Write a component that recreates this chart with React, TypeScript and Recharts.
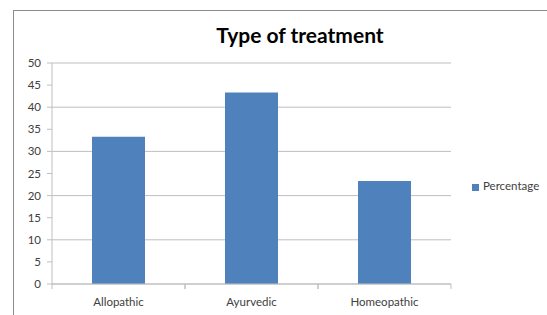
import { BarChart, Bar, XAxis, YAxis, CartesianGrid, Legend } from "recharts";

const categories = ["Allopathic", "Ayurvedic", "Homeopathic"];
const percentage = [33.3, 43.3, 23.3];
const yTicks = [0, 5, 10, 15, 20, 25, 30, 35, 40, 45, 50];

const data = categories.map((name, i) => ({ name, Percentage: percentage[i] }));

const font = "Lato, 'Open Sans', sans-serif";
const grid = "#bfbfbf";

// Excel-style x tick: label at the centre, tick marks at the band edges
function CategoryTick(props: any) {
  const { x, y, payload } = props;
  const half = payload.offset ?? 0;
  return (
    <g>
      <line x1={x - half} x2={x - half} y1={y - 8} y2={y - 3} stroke={grid} />
      <line x1={x + half} x2={x + half} y1={y - 8} y2={y - 3} stroke={grid} />
      <text x={x} y={y + 14} textAnchor="middle" fontSize={11.5} fill="#404040" fontFamily={font}>
        {payload.value}
      </text>
    </g>
  );
}

export default function App() {
  return (
    <div style={{ position: "absolute", left: 0, top: 0, width: 547, height: 315, background: "#fff", overflow: "hidden" }}>
      <div
        style={{
          position: "absolute",
          left: 13,
          top: 10,
          width: 600,
          height: 400,
          border: "1px solid #8c8c8c",
          boxSizing: "border-box",
        }}
      />
      <div
        style={{
          position: "absolute",
          left: 180,
          width: 240,
          top: 22,
          textAlign: "center",
          fontFamily: font,
          fontWeight: 700,
          fontSize: 21,
          color: "#000",
        }}
      >
        Type of treatment
      </div>
      <BarChart
        width={547}
        height={315}
        data={data}
        margin={{ top: 63, right: 16, bottom: 1, left: 12 }}
        style={{ position: "absolute", left: 0, top: 0 }}
      >
        <CartesianGrid stroke={grid} vertical={false} />
        <XAxis
          dataKey="name"
          height={30}
          stroke={grid}
          tickLine={false}
          tick={<CategoryTick />}
          interval={0}
        />
        <YAxis
          width={40}
          domain={[0, 50]}
          ticks={yTicks}
          stroke={grid}
          tickSize={5}
          tickMargin={6}
          tick={{ fontSize: 11.5, fill: "#404040", fontFamily: font }}
        />
        <Legend
          layout="vertical"
          align="right"
          verticalAlign="middle"
          iconType="square"
          iconSize={7}
          wrapperStyle={{ left: 472, top: 179, width: 80, fontFamily: font, fontSize: 11.5 }}
          formatter={(v: string) => <span style={{ color: "#404040" }}>{v}</span>}
        />
        <Bar dataKey="Percentage" fill="#4f81bd" barSize={53} isAnimationActive={false} />
      </BarChart>
    </div>
  );
}
